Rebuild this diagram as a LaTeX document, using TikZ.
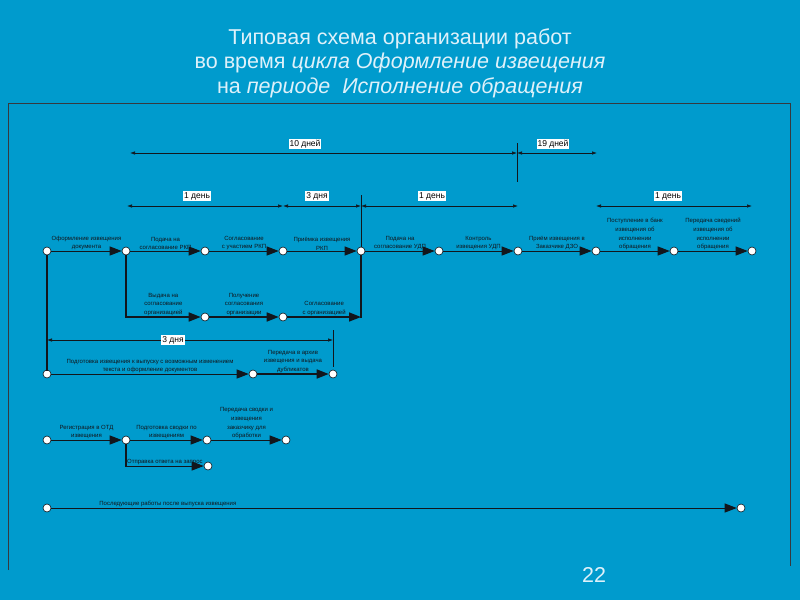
\documentclass[tikz,border=0pt]{standalone}
\usepackage{fontspec}
\setmainfont{Liberation Sans}
\usetikzlibrary{arrows.meta}
\definecolor{bg}{RGB}{0,155,205}
\definecolor{ttl}{RGB}{222,241,250}
\definecolor{ink}{RGB}{18,22,28}
\begin{document}
\begin{tikzpicture}[x=1pt,y=-1pt,
  pt/.style={circle,draw=ink,line width=0.6pt,fill=white,inner sep=0pt,minimum size=8pt},
  flow/.style={draw=ink,line width=1pt,-{Triangle[length=12pt,width=9pt]}},
  flowthick/.style={flow,line width=1.6pt},
  branch/.style={draw=ink,line width=1.6pt,line cap=rect},
  dim/.style={draw=ink,line width=0.7pt,{Latex[length=5pt,width=3.5pt]}-{Latex[length=5pt,width=3.5pt]}},
  tickline/.style={draw=ink,line width=0.8pt},
  frameline/.style={draw=ink!85,line width=0.9pt},
  dimlbl/.style={fill=white,text=black,font=\fontsize{8.5}{9}\selectfont,inner sep=1pt},
  lbl/.style={text=ink,font=\fontsize{6}{8.6}\selectfont,align=center,inner sep=0.5pt},
  titletext/.style={text=ttl,font=\fontsize{21.5}{24.5}\selectfont,align=center},
]
\fill[bg] (0,0) rectangle (800,600);
\useasboundingbox (0,0) rectangle (800,600);

% title
\node[titletext] (title) at (400,63) {Типовая схема организации работ\\во время \textit{цикла Оформление извещения}\\на \textit{периоде\ \ Исполнение обращения}};
\node[titletext] (pagenum) at (594,575) {22};

% frame
\coordinate (fa) at (8,570);
\coordinate (fb) at (8,103);
\coordinate (fc) at (790,103);
\coordinate (fd) at (790,566);
\draw[frameline] (fa) -- (fb) -- (fc) -- (fd);

% top row nodes
\node[pt] (t1) at (47,251) {};
\node[pt] (t2) at (126,251) {};
\node[pt] (t3) at (205,251) {};
\node[pt] (t4) at (283,251) {};
\node[pt] (t5) at (361,251) {};
\node[pt] (t6) at (439,251) {};
\node[pt] (t7) at (518,251) {};
\node[pt] (t8) at (596,251) {};
\node[pt] (t9) at (674,251) {};
\node[pt] (t10) at (752,251) {};

\draw[flow] (t1) -- node[lbl,above]{Оформление извещения\\документа} (t2);
\draw[flow] (t2) -- node[lbl,above]{Подача на\\согласование РКП} (t3);
\draw[flow] (t3) -- node[lbl,above]{Согласование\\с участием РКП} (t4);
\draw[flow] (t4) -- node[lbl,above]{Приёмка извещения\\РКП} (t5);
\draw[flow] (t5) -- node[lbl,above]{Подача на\\согласование УДП} (t6);
\draw[flow] (t6) -- node[lbl,above]{Контроль\\извещения УДП} (t7);
\draw[flow] (t7) -- node[lbl,above]{Приём извещения в\\Заказчике ДЗО} (t8);
\draw[flow] (t8) -- node[lbl,above]{Поступление в банк\\извещения об\\исполнении\\обращения} (t9);
\draw[flow] (t9) -- node[lbl,above]{Передача сведений\\извещения об\\исполнении\\обращения} (t10);

% row 2 (branch from t2 back to t5)
\coordinate (s0) at (126,317);
\node[pt] (s1) at (205,317) {};
\node[pt] (s2) at (283,317) {};
\coordinate (s3) at (361,317);
\draw[branch] (t2) -- (s0);
\draw[flowthick] (s0) -- node[lbl,above]{Выдача на\\согласование\\организацией} (s1);
\draw[flowthick] (s1) -- node[lbl,above]{Получение\\согласования\\организации} (s2);
\draw[flowthick] (s2) -- node[lbl,above]{Согласование\\с организацией} (s3);
\draw[branch] (s3) -- (t5);

% row 3
\node[pt] (u1) at (47,374) {};
\node[pt] (u2) at (253,374) {};
\node[pt] (u3) at (333,374) {};
\draw[branch] (t1) -- (u1);
\draw[flow] (u1) -- node[lbl,above]{Подготовка извещения к выпуску с возможным изменением\\текста и оформление документов} (u2);
\draw[flowthick] (u2) -- node[lbl,above]{Передача в архив\\извещения и выдача\\дубликатов} (u3);

% row 4
\node[pt] (v1) at (47,440) {};
\node[pt] (v2) at (126,440) {};
\node[pt] (v3) at (207,440) {};
\node[pt] (v4) at (286,440) {};
\coordinate (v0) at (126,466);
\node[pt] (v5) at (208,466) {};
\draw[flow] (v1) -- node[lbl,above]{Регистрация в ОТД\\извещения} (v2);
\draw[flow] (v2) -- node[lbl,above]{Подготовка сводки по\\извещениям} (v3);
\draw[flow] (v3) -- node[lbl,above]{Передача сводки и\\извещения\\заказчику для\\обработки} (v4);
\draw[branch] (v2) -- (v0);
\draw[flow] (v0) -- node[lbl,above]{Отправка ответа на запрос} (v5);

% row 5
\node[pt] (w1) at (47,508) {};
\node[pt] (w2) at (741,508) {};
\draw[flow] (w1) -- node[lbl,above,pos=0.17]{Последующие работы после выпуска извещения} (w2);

% dimension lines
\coordinate (a1) at (130,153);
\coordinate (a2) at (517,153);
\coordinate (a3) at (597,153);
\coordinate (ka) at (517,143);
\coordinate (kb) at (517,182);
\draw[dim] (a1) -- (a2);
\draw[dim] (a2) -- (a3);
\draw[tickline] (ka) -- (kb);
\node[dimlbl] (l10) at (305,144) {10 дней};
\node[dimlbl] (l19) at (553,144) {19 дней};

\coordinate (b1) at (127,206);
\coordinate (b2) at (283,206);
\coordinate (b3) at (361,206);
\coordinate (b4) at (518,206);
\coordinate (b5) at (596,206);
\coordinate (b6) at (752,206);
\coordinate (kc) at (361,195);
\draw[dim] (b1) -- (b2);
\draw[dim] (b2) -- (b3);
\draw[dim] (b3) -- (b4);
\draw[dim] (b5) -- (b6);
\draw[tickline] (kc) -- (t5);
\node[dimlbl] (l1a) at (197,196) {1 день};
\node[dimlbl] (l3a) at (317,196) {3 дня};
\node[dimlbl] (l1b) at (432,196) {1 день};
\node[dimlbl] (l1c) at (668,196) {1 день};

\coordinate (c1) at (47,340);
\coordinate (c2) at (333,340);
\coordinate (kd) at (333,330);
\coordinate (ke) at (333,367);
\draw[dim] (c1) -- (c2);
\draw[tickline] (kd) -- (ke);
\node[dimlbl] (l3b) at (173,340) {3 дня};
\end{tikzpicture}
\end{document}
